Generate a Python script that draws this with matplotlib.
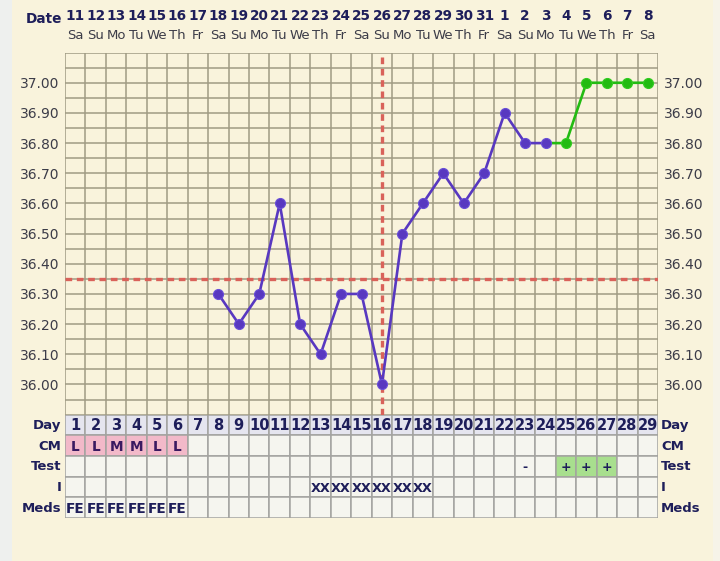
import numpy as np
import matplotlib
matplotlib.use("Agg")
import matplotlib.pyplot as plt
from matplotlib.patches import Rectangle
import matplotlib.transforms as mtransforms

# ---------------- data ----------------
dates = [11, 12, 13, 14, 15, 16, 17, 18, 19, 20, 21, 22, 23, 24, 25, 26, 27, 28,
         29, 30, 31, 1, 2, 3, 4, 5, 6, 7, 8]
weekdays = ["Sa", "Su", "Mo", "Tu", "We", "Th", "Fr", "Sa", "Su", "Mo", "Tu", "We",
            "Th", "Fr", "Sa", "Su", "Mo", "Tu", "We", "Th", "Fr", "Sa", "Su", "Mo",
            "Tu", "We", "Th", "Fr", "Sa"]
cycle_days = list(range(1, 30))

temp_days = [8, 9, 10, 11, 12, 13, 14, 15, 16, 17, 18, 19, 20, 21, 22, 23, 24]
temps = [36.30, 36.20, 36.30, 36.60, 36.20, 36.10, 36.30, 36.30, 36.00, 36.50,
         36.60, 36.70, 36.60, 36.70, 36.90, 36.80, 36.80]
green_days = [24, 25, 26, 27, 28, 29]
green_temps = [36.80, 36.80, 37.00, 37.00, 37.00, 37.00]

coverline = 36.35
ovulation_day = 16

ytick_values = [36.00, 36.10, 36.20, 36.30, 36.40, 36.50, 36.60, 36.70, 36.80, 36.90, 37.00]

row_labels = ["Day", "CM", "Test", "I", "Meds"]
cm_days = [1, 2, 3, 4, 5, 6]
cm_values = ["L", "L", "M", "M", "L", "L"]
test_days = [23, 25, 26, 27]
test_values = ["-", "+", "+", "+"]
i_days = [13, 14, 15, 16, 17, 18]
i_values = ["XX", "XX", "XX", "XX", "XX", "XX"]
meds_days = [1, 2, 3, 4, 5, 6]
meds_values = ["FE", "FE", "FE", "FE", "FE", "FE"]

# ---------------- style ----------------
BG = "#f9f3dc"
GRID = "#a09b84"
TGRID = "#a3a3a0"
NAVY = "#1e1e5a"
TICK = "#3c3c48"
PURPLE = "#5838c0"
GREEN = "#22bb12"
RED = "#d9625a"

W, H = 720, 561
fig = plt.figure(figsize=(W / 100, H / 100), dpi=100, facecolor=BG)

# light side strips
fig.patches.append(Rectangle((0, 0), 12 / W, 1, transform=fig.transFigure,
                             facecolor="#eef0ee", edgecolor="none", zorder=-1))
fig.patches.append(Rectangle((713 / W, 0), 7 / W, 1, transform=fig.transFigure,
                             facecolor="#f6f3e8", edgecolor="none", zorder=-1))

left, right = 65 / W, 658 / W
top_px, mid_px, bot_px = 52.6, 414.6, 518.0

ax = fig.add_axes([left, 1 - mid_px / H, right - left, (mid_px - top_px) / H])
tax = fig.add_axes([left, 1 - bot_px / H, right - left, (bot_px - mid_px) / H])

n = len(cycle_days)
# ---------- temperature panel ----------
ax.set_facecolor(BG)
ax.set_xlim(0.5, n + 0.5)
ax.set_ylim(35.90, 37.10)
for x in np.arange(0.5, n + 1, 1):
    ax.axvline(x, color=GRID, lw=1.1, zorder=1)
for y in np.arange(35.90, 37.101, 0.05):
    ax.axhline(y, color=GRID, lw=1.1, zorder=1)
for s in ax.spines.values():
    s.set_visible(False)

ax.set_xticks([])
ax.set_yticks(ytick_values)
ax.set_yticklabels([f"{v:.2f}" for v in ytick_values])
ax.tick_params(axis="y", length=0, pad=4, labelsize=10, labelcolor=TICK,
               labelleft=True, labelright=True)

# coverline and ovulation line
ax.axhline(coverline, color=RED, lw=2.4, ls=(0, (2.0, 1.4)), zorder=3)
ax.axvline(ovulation_day, color=RED, lw=2.4, ls=(0, (2.0, 1.4)), zorder=3)

# temperature lines
ax.plot(green_days, green_temps, color=GREEN, lw=1.9, zorder=4)
ax.plot(temp_days, temps, color=PURPLE, lw=1.9, marker="o", ms=7.2,
        markerfacecolor=PURPLE, markeredgecolor="#6a50d8", mew=0.8, zorder=5)
ax.plot(green_days[1:], green_temps[1:], ls="none", marker="o", ms=7.2,
        markerfacecolor=GREEN, markeredgecolor="#33cc22", mew=0.8, zorder=5)

# date header
trans = mtransforms.blended_transform_factory(ax.transData, ax.transAxes)
for d, dt, wd in zip(cycle_days, dates, weekdays):
    ax.text(d, 1.101, str(dt), transform=trans, ha="center", va="center",
            fontsize=9.8, fontweight="bold", color=NAVY, clip_on=False)
    ax.text(d, 1.048, wd, transform=trans, ha="center", va="center",
            fontsize=9.5, color=TICK, clip_on=False)
fig.text(62 / W, 1 - 19 / H, "Date", ha="right", va="center", fontsize=9.8,
         fontweight="bold", color=NAVY)

# ---------- table panel ----------
tax.set_xlim(0.5, n + 0.5)
tax.set_ylim(len(row_labels), 0)
tax.axis("off")

cm_map = dict(zip(cm_days, cm_values))
test_map = dict(zip(test_days, test_values))
i_map = dict(zip(i_days, i_values))
meds_map = dict(zip(meds_days, meds_values))

for r, lab in enumerate(row_labels):
    for d in cycle_days:
        fc = "#f5f5ef"
        txt = ""
        if lab == "Day":
            fc = "#e5e5ef"
            txt = str(d)
        elif lab == "CM" and d in cm_map:
            fc = "#f2b9c9"
            txt = cm_map[d]
        elif lab == "Test" and d in test_map:
            txt = test_map[d]
            if txt == "+":
                fc = "#a8df8e"
        elif lab == "I" and d in i_map:
            txt = i_map[d]
        elif lab == "Meds" and d in meds_map:
            txt = meds_map[d]
        tax.add_patch(Rectangle((d - 0.5, r), 1, 1, facecolor=fc,
                                edgecolor=TGRID, lw=1.1, zorder=1))
        if txt:
            if lab == "Day":
                fs = 10.5
            elif lab in ("CM", "Meds"):
                fs = 9.8
            elif lab == "I":
                fs = 9.3
            else:
                fs = 9
            col = "#3a1a60" if lab == "CM" else NAVY
            tax.text(d, r + 0.55, txt, ha="center", va="center", fontsize=fs,
                     fontweight="bold", color=col, zorder=2)
    tax.text(0.32, r + 0.52, lab, ha="right", va="center", fontsize=9.5,
             fontweight="bold", color=NAVY, clip_on=False)
    tax.text(n + 0.65, r + 0.52, lab, ha="left", va="center", fontsize=9.5,
             fontweight="bold", color=NAVY, clip_on=False)

fig.savefig("out.png", dpi=100, facecolor=BG)
